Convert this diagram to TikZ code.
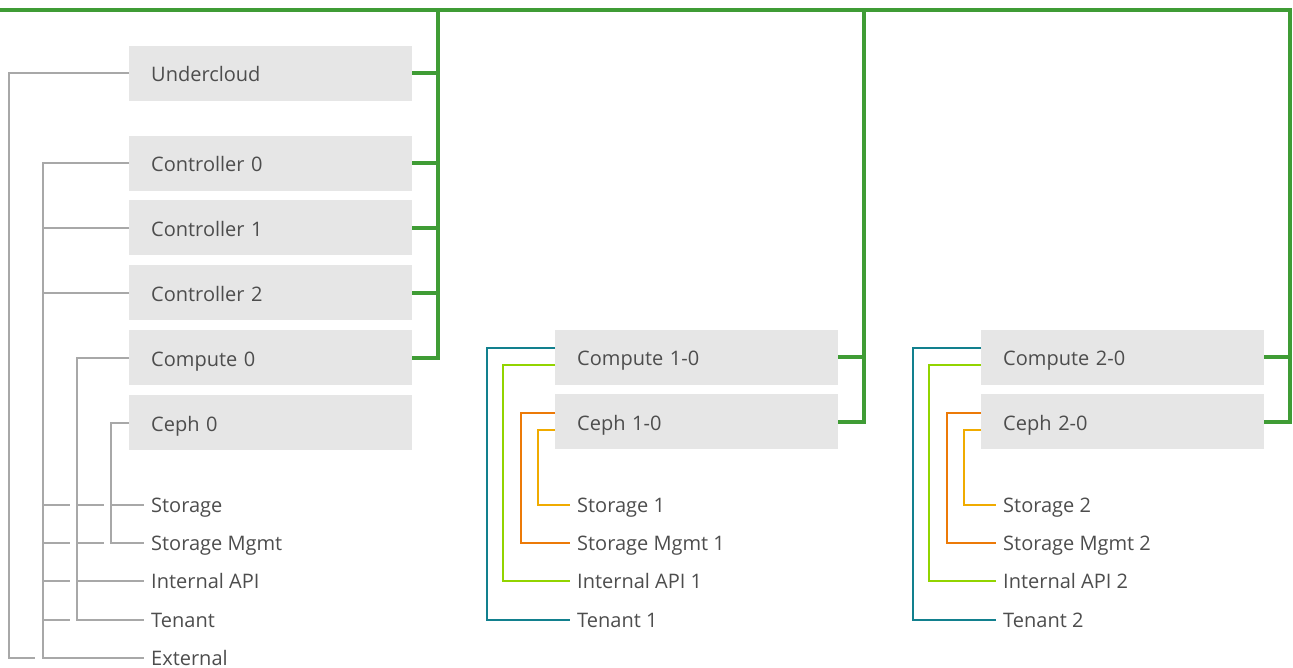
\documentclass[tikz,border=0pt]{standalone}
\usepackage{fontspec}
\setmainfont{Open Sans}
\usepackage{xcolor}
\usetikzlibrary{positioning}
\definecolor{rhgreen}{HTML}{3F9C35}
\definecolor{boxgray}{HTML}{E6E6E6}
\definecolor{txtgray}{HTML}{4D4D4D}
\definecolor{linegray}{HTML}{A8A8A8}
\definecolor{rhteal}{HTML}{12808E}
\definecolor{rhlime}{HTML}{92D400}
\definecolor{rhorange}{HTML}{EC7A08}
\definecolor{rhgold}{HTML}{F0AB00}
\tikzstyle{box} = [fill=boxgray, anchor=west, text width=239pt, inner xsep=22pt, minimum height=55pt, text height=17pt, text depth=0pt, align=left, text=txtgray, font=\fontsize{20}{24}\selectfont]
\tikzstyle{lbl} = [anchor=west, inner xsep=7pt, inner ysep=0pt, text height=14pt, text depth=0pt, text=txtgray, font=\fontsize{20}{24}\selectfont]
\tikzstyle{greenline} = [line width=4pt, draw=rhgreen]
\tikzstyle{grayline} = [line width=2pt, draw=linegray]
\tikzstyle{netline} = [line width=2pt]

\begin{document}
\begin{tikzpicture}[x=1pt, y=-1pt, node distance=9.5pt]
\useasboundingbox (0,0) rectangle (1293,667);
% left stack
\node (uc) [box] at (129,73) {Undercloud};
\node (c0) [box] at (129,163) {Controller 0};
\node (c1) [box, below = of c0] {Controller 1};
\node (c2) [box, below = of c1] {Controller 2};
\node (cp0) [box, below = of c2] {Compute 0};
\node (ceph0) [box, below = of cp0] {Ceph 0};
\node (st) [lbl] at (144,505) {Storage};
\node (sm) [lbl] at (144,543) {Storage Mgmt};
\node (ia) [lbl] at (144,581) {Internal API};
\node (tn) [lbl] at (144,620) {Tenant};
\node (ex) [lbl] at (144,658) {External};
% other compute groups
\foreach \g/\x in {1/555, 2/981} {
    \node (cp\g) [box] at (\x,357) {Compute \g-0};
    \node (ceph\g) [box, below = of cp\g] {Ceph \g-0};
    \node (st\g) [lbl] at (\x+15,505) {Storage \g};
    \node (sm\g) [lbl] at (\x+15,543) {Storage Mgmt \g};
    \node (ia\g) [lbl] at (\x+15,581) {Internal API \g};
    \node (tn\g) [lbl] at (\x+15,620) {Tenant \g};
}
% green bus
\coordinate (gs) at (0,10);
\coordinate (g0) at (438,10);
\coordinate (g1) at (864,10);
\coordinate (g2) at (1290,10);
\draw [greenline] (gs) -- (g2) |- (ceph2.east);
\draw [greenline] (g2 |- cp2.east) -- (cp2.east);
\draw [greenline] (g1) |- (ceph1.east);
\draw [greenline] (g1 |- cp1.east) -- (cp1.east);
\draw [greenline] (g0) |- (cp0.east);
\foreach \n in {uc, c0, c1, c2}
    \draw [greenline] (g0 |- \n.east) -- (\n.east);
% gray networks
\coordinate (v0) at (9,0);
\coordinate (v1) at (43,0);
\coordinate (v2) at (77,0);
\coordinate (v3) at (111,0);
\draw [grayline] (uc.west) -| (v0 |- ex.west) -- ++(26,0);
\draw [grayline] (c0.west) -| (v1 |- ex.west) -- (ex.west);
\draw [grayline] (c1.west) -- (v1 |- c1.west);
\draw [grayline] (c2.west) -- (v1 |- c2.west);
\draw [grayline] (cp0.west) -| (v2 |- tn.west) -- (tn.west);
\draw [grayline] (v2 |- ia.west) -- (ia.west);
\draw [grayline] (ceph0.west) -| (v3 |- sm.west) -- (sm.west);
\draw [grayline] (v3 |- st.west) -- (st.west);
\foreach \r in {st, sm, ia, tn}
    \draw [grayline] (v1 |- \r.west) -- ++(27,0);
\foreach \r in {st, sm}
    \draw [grayline] (v2 |- \r.west) -- ++(27,0);
% coloured networks
\foreach \g in {1, 2} {
    \draw [netline, rhteal] ([yshift=9pt]cp\g.west) -| ([xshift=-68pt]cp\g.west |- tn\g.west) -- (tn\g.west);
    \draw [netline, rhlime] ([yshift=-8pt]cp\g.west) -| ([xshift=-52pt]cp\g.west |- ia\g.west) -- (ia\g.west);
    \draw [netline, rhorange] ([yshift=9pt]ceph\g.west) -| ([xshift=-34pt]ceph\g.west |- sm\g.west) -- (sm\g.west);
    \draw [netline, rhgold] ([yshift=-8pt]ceph\g.west) -| ([xshift=-17pt]ceph\g.west |- st\g.west) -- (st\g.west);
}
\end{tikzpicture}
\end{document}
